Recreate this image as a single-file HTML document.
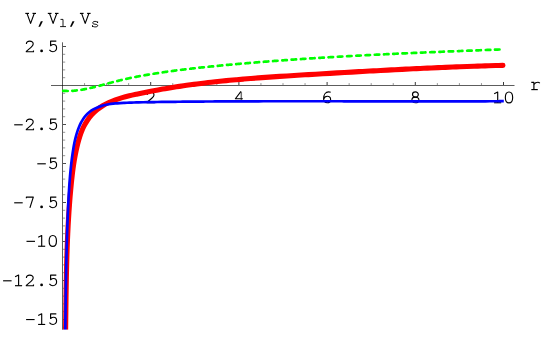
<!DOCTYPE html>
<html><head><meta charset="utf-8"><title>plot</title>
<style>
html,body{margin:0;padding:0;background:#fff;}
svg{display:block;}
text{font-family:"Liberation Mono",monospace;fill:#000;}
</style></head>
<body>
<svg width="545" height="337" viewBox="0 0 545 337">
<desc>Plot of V, V_l, V_s versus r. y ticks: 2.5, -2.5, -5, -7.5, -10, -12.5, -15. x ticks: 2, 4, 6, 8, 10.</desc>
<rect width="545" height="337" fill="#fff"/>
<g fill="none">
<line x1="51" y1="85.5" x2="514.5" y2="85.5" stroke="#000" stroke-opacity="0.8" stroke-width="0.8"/>
<line x1="62.5" y1="42.3" x2="62.5" y2="329.7" stroke="#000" stroke-opacity="0.8" stroke-width="0.8"/>
<line x1="84.55" y1="85" x2="84.55" y2="83.1" stroke="#000" stroke-opacity="0.42" stroke-width="1"/>
<line x1="106.60" y1="85" x2="106.60" y2="83.1" stroke="#000" stroke-opacity="0.42" stroke-width="1"/>
<line x1="128.65" y1="85" x2="128.65" y2="83.1" stroke="#000" stroke-opacity="0.42" stroke-width="1"/>
<line x1="150.70" y1="85" x2="150.70" y2="82" stroke="#000" stroke-opacity="0.78" stroke-width="1"/>
<line x1="172.75" y1="85" x2="172.75" y2="83.1" stroke="#000" stroke-opacity="0.42" stroke-width="1"/>
<line x1="194.80" y1="85" x2="194.80" y2="83.1" stroke="#000" stroke-opacity="0.42" stroke-width="1"/>
<line x1="216.85" y1="85" x2="216.85" y2="83.1" stroke="#000" stroke-opacity="0.42" stroke-width="1"/>
<line x1="238.90" y1="85" x2="238.90" y2="82" stroke="#000" stroke-opacity="0.78" stroke-width="1"/>
<line x1="260.95" y1="85" x2="260.95" y2="83.1" stroke="#000" stroke-opacity="0.42" stroke-width="1"/>
<line x1="283.00" y1="85" x2="283.00" y2="83.1" stroke="#000" stroke-opacity="0.42" stroke-width="1"/>
<line x1="305.05" y1="85" x2="305.05" y2="83.1" stroke="#000" stroke-opacity="0.42" stroke-width="1"/>
<line x1="327.10" y1="85" x2="327.10" y2="82" stroke="#000" stroke-opacity="0.78" stroke-width="1"/>
<line x1="349.15" y1="85" x2="349.15" y2="83.1" stroke="#000" stroke-opacity="0.42" stroke-width="1"/>
<line x1="371.20" y1="85" x2="371.20" y2="83.1" stroke="#000" stroke-opacity="0.42" stroke-width="1"/>
<line x1="393.25" y1="85" x2="393.25" y2="83.1" stroke="#000" stroke-opacity="0.42" stroke-width="1"/>
<line x1="415.30" y1="85" x2="415.30" y2="82" stroke="#000" stroke-opacity="0.78" stroke-width="1"/>
<line x1="437.35" y1="85" x2="437.35" y2="83.1" stroke="#000" stroke-opacity="0.42" stroke-width="1"/>
<line x1="459.40" y1="85" x2="459.40" y2="83.1" stroke="#000" stroke-opacity="0.42" stroke-width="1"/>
<line x1="481.45" y1="85" x2="481.45" y2="83.1" stroke="#000" stroke-opacity="0.42" stroke-width="1"/>
<line x1="503.50" y1="85" x2="503.50" y2="82" stroke="#000" stroke-opacity="0.78" stroke-width="1"/>
<line x1="63" y1="327.30" x2="65.2" y2="327.30" stroke="#000" stroke-opacity="0.42" stroke-width="1"/>
<line x1="63" y1="319.50" x2="66" y2="319.50" stroke="#000" stroke-opacity="0.7" stroke-width="1"/>
<line x1="63" y1="311.70" x2="65.2" y2="311.70" stroke="#000" stroke-opacity="0.42" stroke-width="1"/>
<line x1="63" y1="303.90" x2="65.2" y2="303.90" stroke="#000" stroke-opacity="0.42" stroke-width="1"/>
<line x1="63" y1="296.10" x2="65.2" y2="296.10" stroke="#000" stroke-opacity="0.42" stroke-width="1"/>
<line x1="63" y1="288.30" x2="65.2" y2="288.30" stroke="#000" stroke-opacity="0.42" stroke-width="1"/>
<line x1="63" y1="280.50" x2="66" y2="280.50" stroke="#000" stroke-opacity="0.7" stroke-width="1"/>
<line x1="63" y1="272.70" x2="65.2" y2="272.70" stroke="#000" stroke-opacity="0.42" stroke-width="1"/>
<line x1="63" y1="264.90" x2="65.2" y2="264.90" stroke="#000" stroke-opacity="0.42" stroke-width="1"/>
<line x1="63" y1="257.10" x2="65.2" y2="257.10" stroke="#000" stroke-opacity="0.42" stroke-width="1"/>
<line x1="63" y1="249.30" x2="65.2" y2="249.30" stroke="#000" stroke-opacity="0.42" stroke-width="1"/>
<line x1="63" y1="241.50" x2="66" y2="241.50" stroke="#000" stroke-opacity="0.7" stroke-width="1"/>
<line x1="63" y1="233.70" x2="65.2" y2="233.70" stroke="#000" stroke-opacity="0.42" stroke-width="1"/>
<line x1="63" y1="225.90" x2="65.2" y2="225.90" stroke="#000" stroke-opacity="0.42" stroke-width="1"/>
<line x1="63" y1="218.10" x2="65.2" y2="218.10" stroke="#000" stroke-opacity="0.42" stroke-width="1"/>
<line x1="63" y1="210.30" x2="65.2" y2="210.30" stroke="#000" stroke-opacity="0.42" stroke-width="1"/>
<line x1="63" y1="202.50" x2="66" y2="202.50" stroke="#000" stroke-opacity="0.7" stroke-width="1"/>
<line x1="63" y1="194.70" x2="65.2" y2="194.70" stroke="#000" stroke-opacity="0.42" stroke-width="1"/>
<line x1="63" y1="186.90" x2="65.2" y2="186.90" stroke="#000" stroke-opacity="0.42" stroke-width="1"/>
<line x1="63" y1="179.10" x2="65.2" y2="179.10" stroke="#000" stroke-opacity="0.42" stroke-width="1"/>
<line x1="63" y1="171.30" x2="65.2" y2="171.30" stroke="#000" stroke-opacity="0.42" stroke-width="1"/>
<line x1="63" y1="163.50" x2="66" y2="163.50" stroke="#000" stroke-opacity="0.7" stroke-width="1"/>
<line x1="63" y1="155.70" x2="65.2" y2="155.70" stroke="#000" stroke-opacity="0.42" stroke-width="1"/>
<line x1="63" y1="147.90" x2="65.2" y2="147.90" stroke="#000" stroke-opacity="0.42" stroke-width="1"/>
<line x1="63" y1="140.10" x2="65.2" y2="140.10" stroke="#000" stroke-opacity="0.42" stroke-width="1"/>
<line x1="63" y1="132.30" x2="65.2" y2="132.30" stroke="#000" stroke-opacity="0.42" stroke-width="1"/>
<line x1="63" y1="124.50" x2="66" y2="124.50" stroke="#000" stroke-opacity="0.7" stroke-width="1"/>
<line x1="63" y1="116.70" x2="65.2" y2="116.70" stroke="#000" stroke-opacity="0.42" stroke-width="1"/>
<line x1="63" y1="108.90" x2="65.2" y2="108.90" stroke="#000" stroke-opacity="0.42" stroke-width="1"/>
<line x1="63" y1="101.10" x2="65.2" y2="101.10" stroke="#000" stroke-opacity="0.42" stroke-width="1"/>
<line x1="63" y1="93.30" x2="65.2" y2="93.30" stroke="#000" stroke-opacity="0.42" stroke-width="1"/>
<line x1="63" y1="77.70" x2="65.2" y2="77.70" stroke="#000" stroke-opacity="0.42" stroke-width="1"/>
<line x1="63" y1="69.90" x2="65.2" y2="69.90" stroke="#000" stroke-opacity="0.42" stroke-width="1"/>
<line x1="63" y1="62.10" x2="65.2" y2="62.10" stroke="#000" stroke-opacity="0.42" stroke-width="1"/>
<line x1="63" y1="54.30" x2="65.2" y2="54.30" stroke="#000" stroke-opacity="0.42" stroke-width="1"/>
<line x1="63" y1="46.50" x2="66" y2="46.50" stroke="#000" stroke-opacity="0.7" stroke-width="1"/>
</g>
<g>
<path transform="translate(53.20 52.25)" d="M3.1 -11.2 L-2.6 -11.2 L-2.6 -6.5 C-1.6 -7.4 -0.6 -7.8 0.5 -7.8 C2.2 -7.8 3.4 -6.2 3.4 -4.2 C3.4 -2 1.8 -0.55 -0.2 -0.55 C-1.7 -0.55 -2.9 -1.2 -3.8 -2.3" fill="none" stroke="#000" stroke-opacity="1.00" stroke-width="1.15" stroke-linejoin="round" stroke-linecap="butt"/>
<circle cx="41.60" cy="50.90" r="1.4" fill="#000"/>
<path transform="translate(29.90 52.25)" d="M-3.5 -8.2 C-3.5 -10.1 -2 -11.2 -0.1 -11.2 C1.9 -11.2 3.3 -10 3.3 -8.3 C3.3 -7 2.5 -6.1 1.1 -4.9 L-3.6 -0.9 L-3.6 -0.55 L3.6 -0.55 L3.6 -1.7" fill="none" stroke="#000" stroke-opacity="1.00" stroke-width="1.15" stroke-linejoin="round" stroke-linecap="butt"/>
<path transform="translate(53.20 130.25)" d="M3.1 -11.2 L-2.6 -11.2 L-2.6 -6.5 C-1.6 -7.4 -0.6 -7.8 0.5 -7.8 C2.2 -7.8 3.4 -6.2 3.4 -4.2 C3.4 -2 1.8 -0.55 -0.2 -0.55 C-1.7 -0.55 -2.9 -1.2 -3.8 -2.3" fill="none" stroke="#000" stroke-opacity="1.00" stroke-width="1.15" stroke-linejoin="round" stroke-linecap="butt"/>
<circle cx="41.60" cy="128.90" r="1.4" fill="#000"/>
<path transform="translate(29.90 130.25)" d="M-3.5 -8.2 C-3.5 -10.1 -2 -11.2 -0.1 -11.2 C1.9 -11.2 3.3 -10 3.3 -8.3 C3.3 -7 2.5 -6.1 1.1 -4.9 L-3.6 -0.9 L-3.6 -0.55 L3.6 -0.55 L3.6 -1.7" fill="none" stroke="#000" stroke-opacity="1.00" stroke-width="1.15" stroke-linejoin="round" stroke-linecap="butt"/>
<path transform="translate(18.50 130.25)" d="M-4.3 -5.45 L4.2 -5.45" fill="none" stroke="#000" stroke-opacity="1.00" stroke-width="1.15" stroke-linejoin="round" stroke-linecap="butt"/>
<path transform="translate(53.20 169.25)" d="M3.1 -11.2 L-2.6 -11.2 L-2.6 -6.5 C-1.6 -7.4 -0.6 -7.8 0.5 -7.8 C2.2 -7.8 3.4 -6.2 3.4 -4.2 C3.4 -2 1.8 -0.55 -0.2 -0.55 C-1.7 -0.55 -2.9 -1.2 -3.8 -2.3" fill="none" stroke="#000" stroke-opacity="1.00" stroke-width="1.15" stroke-linejoin="round" stroke-linecap="butt"/>
<path transform="translate(41.60 169.25)" d="M-4.3 -5.45 L4.2 -5.45" fill="none" stroke="#000" stroke-opacity="1.00" stroke-width="1.15" stroke-linejoin="round" stroke-linecap="butt"/>
<path transform="translate(53.20 208.25)" d="M3.1 -11.2 L-2.6 -11.2 L-2.6 -6.5 C-1.6 -7.4 -0.6 -7.8 0.5 -7.8 C2.2 -7.8 3.4 -6.2 3.4 -4.2 C3.4 -2 1.8 -0.55 -0.2 -0.55 C-1.7 -0.55 -2.9 -1.2 -3.8 -2.3" fill="none" stroke="#000" stroke-opacity="1.00" stroke-width="1.15" stroke-linejoin="round" stroke-linecap="butt"/>
<circle cx="41.60" cy="206.90" r="1.4" fill="#000"/>
<path transform="translate(29.90 208.25)" d="M-3.5 -9.9 L-3.5 -11.2 L3.4 -11.2 L0 -0.4" fill="none" stroke="#000" stroke-opacity="1.00" stroke-width="1.15" stroke-linejoin="round" stroke-linecap="butt"/>
<path transform="translate(18.50 208.25)" d="M-4.3 -5.45 L4.2 -5.45" fill="none" stroke="#000" stroke-opacity="1.00" stroke-width="1.15" stroke-linejoin="round" stroke-linecap="butt"/>
<path transform="translate(52.80 246.80)" d="M0 -11.3 C2.3 -11.3 3.65 -9 3.65 -5.85 C3.65 -2.7 2.3 -0.4 0 -0.4 C-2.3 -0.4 -3.65 -2.7 -3.65 -5.85 C-3.65 -9 -2.3 -11.3 0 -11.3 Z" fill="none" stroke="#000" stroke-opacity="1.00" stroke-width="1.15" stroke-linejoin="round" stroke-linecap="butt"/>
<path transform="translate(41.60 246.80)" d="M-3.4 -9.5 L0.1 -11.2 L0.1 -0.55" fill="none" stroke="#000" stroke-opacity="1.00" stroke-width="1.15" stroke-linejoin="round" stroke-linecap="butt"/><path transform="translate(41.60 246.80)" d="M-3.5 -0.55 L3.6 -0.55" fill="none" stroke="#000" stroke-opacity="1.00" stroke-width="1.15" stroke-linejoin="round" stroke-linecap="butt"/>
<path transform="translate(30.80 246.80)" d="M-4.3 -5.45 L4.2 -5.45" fill="none" stroke="#000" stroke-opacity="1.00" stroke-width="1.15" stroke-linejoin="round" stroke-linecap="butt"/>
<path transform="translate(53.20 286.25)" d="M3.1 -11.2 L-2.6 -11.2 L-2.6 -6.5 C-1.6 -7.4 -0.6 -7.8 0.5 -7.8 C2.2 -7.8 3.4 -6.2 3.4 -4.2 C3.4 -2 1.8 -0.55 -0.2 -0.55 C-1.7 -0.55 -2.9 -1.2 -3.8 -2.3" fill="none" stroke="#000" stroke-opacity="1.00" stroke-width="1.15" stroke-linejoin="round" stroke-linecap="butt"/>
<circle cx="41.60" cy="284.90" r="1.4" fill="#000"/>
<path transform="translate(29.90 286.25)" d="M-3.5 -8.2 C-3.5 -10.1 -2 -11.2 -0.1 -11.2 C1.9 -11.2 3.3 -10 3.3 -8.3 C3.3 -7 2.5 -6.1 1.1 -4.9 L-3.6 -0.9 L-3.6 -0.55 L3.6 -0.55 L3.6 -1.7" fill="none" stroke="#000" stroke-opacity="1.00" stroke-width="1.15" stroke-linejoin="round" stroke-linecap="butt"/>
<path transform="translate(18.50 286.25)" d="M-3.4 -9.5 L0.1 -11.2 L0.1 -0.55" fill="none" stroke="#000" stroke-opacity="1.00" stroke-width="1.15" stroke-linejoin="round" stroke-linecap="butt"/><path transform="translate(18.50 286.25)" d="M-3.5 -0.55 L3.6 -0.55" fill="none" stroke="#000" stroke-opacity="1.00" stroke-width="1.15" stroke-linejoin="round" stroke-linecap="butt"/>
<path transform="translate(7.40 286.25)" d="M-4.3 -5.45 L4.2 -5.45" fill="none" stroke="#000" stroke-opacity="1.00" stroke-width="1.15" stroke-linejoin="round" stroke-linecap="butt"/>
<path transform="translate(53.20 325.00)" d="M3.1 -11.2 L-2.6 -11.2 L-2.6 -6.5 C-1.6 -7.4 -0.6 -7.8 0.5 -7.8 C2.2 -7.8 3.4 -6.2 3.4 -4.2 C3.4 -2 1.8 -0.55 -0.2 -0.55 C-1.7 -0.55 -2.9 -1.2 -3.8 -2.3" fill="none" stroke="#000" stroke-opacity="1.00" stroke-width="1.15" stroke-linejoin="round" stroke-linecap="butt"/>
<path transform="translate(41.60 325.00)" d="M-3.4 -9.5 L0.1 -11.2 L0.1 -0.55" fill="none" stroke="#000" stroke-opacity="1.00" stroke-width="1.15" stroke-linejoin="round" stroke-linecap="butt"/><path transform="translate(41.60 325.00)" d="M-3.5 -0.55 L3.6 -0.55" fill="none" stroke="#000" stroke-opacity="1.00" stroke-width="1.15" stroke-linejoin="round" stroke-linecap="butt"/>
<path transform="translate(30.40 325.00)" d="M-4.3 -5.45 L4.2 -5.45" fill="none" stroke="#000" stroke-opacity="1.00" stroke-width="1.15" stroke-linejoin="round" stroke-linecap="butt"/>
<path transform="translate(150.70 103.20)" d="M-3.5 -8.2 C-3.5 -10.1 -2 -11.2 -0.1 -11.2 C1.9 -11.2 3.3 -10 3.3 -8.3 C3.3 -7 2.5 -6.1 1.1 -4.9 L-3.6 -0.9 L-3.6 -0.55 L3.6 -0.55 L3.6 -1.7" fill="none" stroke="#000" stroke-opacity="1.00" stroke-width="1.15" stroke-linejoin="round" stroke-linecap="butt"/>
<path transform="translate(238.90 103.20)" d="M2.4 -1.2 L2.4 -11.4" fill="none" stroke="#000" stroke-opacity="0.55" stroke-width="1.50" stroke-linejoin="round" stroke-linecap="butt"/><path transform="translate(238.90 103.20)" d="M2.3 -11.5 L1.9 -11.5 L-3.5 -4.45 L3.9 -4.45" fill="none" stroke="#000" stroke-opacity="1.00" stroke-width="1.15" stroke-linejoin="round" stroke-linecap="butt"/>
<path transform="translate(327.10 103.20)" d="M3.6 -10.9 C2.9 -11.2 2.2 -11.3 1.5 -11.3 C-1.5 -11.3 -3.5 -8.3 -3.5 -4.4 C-3.5 -2 -2 -0.5 0.1 -0.5 C2.1 -0.5 3.5 -1.9 3.5 -3.8 C3.5 -5.7 2.1 -7 0.2 -7 C-1.5 -7 -2.9 -5.9 -3.4 -4" fill="none" stroke="#000" stroke-opacity="1.00" stroke-width="1.15" stroke-linejoin="round" stroke-linecap="butt"/>
<path transform="translate(415.30 103.20)" d="M0.1 -11.3 C1.8 -11.3 3.0 -10.15 3.0 -8.7 C3.0 -7.25 1.8 -6.1 0.1 -6.1 C-1.6 -6.1 -2.8 -7.25 -2.8 -8.7 C-2.8 -10.15 -1.6 -11.3 0.1 -11.3 Z" fill="none" stroke="#000" stroke-opacity="1.00" stroke-width="1.15" stroke-linejoin="round" stroke-linecap="butt"/><path transform="translate(415.30 103.20)" d="M0.1 -6.1 C2.2 -6.1 3.6 -4.9 3.6 -3.3 C3.6 -1.7 2.2 -0.45 0.1 -0.45 C-2 -0.45 -3.4 -1.7 -3.4 -3.3 C-3.4 -4.9 -2 -6.1 0.1 -6.1 Z" fill="none" stroke="#000" stroke-opacity="1.00" stroke-width="1.15" stroke-linejoin="round" stroke-linecap="butt"/>
<path transform="translate(497.60 103.30)" d="M-3.4 -9.5 L0.1 -11.2 L0.1 -0.55" fill="none" stroke="#000" stroke-opacity="1.00" stroke-width="1.15" stroke-linejoin="round" stroke-linecap="butt"/><path transform="translate(497.60 103.30)" d="M-3.5 -0.55 L3.6 -0.55" fill="none" stroke="#000" stroke-opacity="1.00" stroke-width="1.15" stroke-linejoin="round" stroke-linecap="butt"/>
<path transform="translate(509.00 103.30)" d="M0 -11.3 C2.3 -11.3 3.65 -9 3.65 -5.85 C3.65 -2.7 2.3 -0.4 0 -0.4 C-2.3 -0.4 -3.65 -2.7 -3.65 -5.85 C-3.65 -9 -2.3 -11.3 0 -11.3 Z" fill="none" stroke="#000" stroke-opacity="1.00" stroke-width="1.15" stroke-linejoin="round" stroke-linecap="butt"/>
<path transform="translate(535.50 90.05)" d="M-4.2 -7.75 L-1.6 -7.75 L-1.6 -0.45" fill="none" stroke="#000" stroke-opacity="1.00" stroke-width="1.15" stroke-linejoin="round" stroke-linecap="butt"/><path transform="translate(535.50 90.05)" d="M-4.2 -0.45 L2.3 -0.45" fill="none" stroke="#000" stroke-opacity="1.00" stroke-width="1.15" stroke-linejoin="round" stroke-linecap="butt"/><path transform="translate(535.50 90.05)" d="M-1.6 -5.6 C-0.6 -7 0.9 -7.85 2.4 -7.85 C3.3 -7.85 3.9 -7.4 4.2 -6.7" fill="none" stroke="#000" stroke-opacity="1.00" stroke-width="1.15" stroke-linejoin="round" stroke-linecap="butt"/>
<path transform="translate(30.60 23.90)" d="M-5.3 -10.5 L-1.6 -10.5" fill="none" stroke="#000" stroke-opacity="1.00" stroke-width="1.15" stroke-linejoin="round" stroke-linecap="butt"/><path transform="translate(30.60 23.90)" d="M1.9 -10.5 L5.4 -10.5" fill="none" stroke="#000" stroke-opacity="1.00" stroke-width="1.15" stroke-linejoin="round" stroke-linecap="butt"/><path transform="translate(30.60 23.90)" d="M-3.6 -10.5 L0 -0.5 L3.7 -10.5" fill="none" stroke="#000" stroke-opacity="1.00" stroke-width="1.15" stroke-linejoin="round" stroke-linecap="butt"/><path d="M40.85 21.20 L42.90 21.20 L40.10 26.80 L38.40 26.80 Z" fill="#000"/><path transform="translate(53.10 23.90)" d="M-5.3 -10.5 L-1.6 -10.5" fill="none" stroke="#000" stroke-opacity="1.00" stroke-width="1.15" stroke-linejoin="round" stroke-linecap="butt"/><path transform="translate(53.10 23.90)" d="M1.9 -10.5 L5.4 -10.5" fill="none" stroke="#000" stroke-opacity="1.00" stroke-width="1.15" stroke-linejoin="round" stroke-linecap="butt"/><path transform="translate(53.10 23.90)" d="M-3.6 -10.5 L0 -0.5 L3.7 -10.5" fill="none" stroke="#000" stroke-opacity="1.00" stroke-width="1.15" stroke-linejoin="round" stroke-linecap="butt"/><path transform="translate(63.00 27.00)" d="M-2.5 -7.6 L0 -7.6 L0 -0.4" fill="none" stroke="#000" stroke-opacity="1.00" stroke-width="0.90" stroke-linejoin="round" stroke-linecap="butt"/><path transform="translate(63.00 27.00)" d="M-2.9 -0.4 L3.0 -0.4" fill="none" stroke="#000" stroke-opacity="1.00" stroke-width="0.90" stroke-linejoin="round" stroke-linecap="butt"/><path d="M72.45 21.20 L74.50 21.20 L71.70 26.80 L70.00 26.80 Z" fill="#000"/><path transform="translate(85.20 23.90)" d="M-5.3 -10.5 L-1.6 -10.5" fill="none" stroke="#000" stroke-opacity="1.00" stroke-width="1.15" stroke-linejoin="round" stroke-linecap="butt"/><path transform="translate(85.20 23.90)" d="M1.9 -10.5 L5.4 -10.5" fill="none" stroke="#000" stroke-opacity="1.00" stroke-width="1.15" stroke-linejoin="round" stroke-linecap="butt"/><path transform="translate(85.20 23.90)" d="M-3.6 -10.5 L0 -0.5 L3.7 -10.5" fill="none" stroke="#000" stroke-opacity="1.00" stroke-width="1.15" stroke-linejoin="round" stroke-linecap="butt"/><path transform="translate(95.10 27.00)" d="M2.5 -4.2 C2.3 -5.1 1.2 -5.6 0 -5.6 C-1.4 -5.6 -2.4 -5 -2.4 -4.1 C-2.4 -3.3 -1.6 -3 0 -2.8 C1.7 -2.6 2.6 -2.2 2.6 -1.4 C2.6 -0.5 1.5 -0.1 0.1 -0.1 C-1.2 -0.1 -2.3 -0.5 -2.6 -1.4" fill="none" stroke="#000" stroke-opacity="1.00" stroke-width="0.95" stroke-linejoin="round" stroke-linecap="butt"/><path transform="translate(95.10 27.00)" d="M2.5 -5.6 L2.5 -4.0" fill="none" stroke="#000" stroke-opacity="1.00" stroke-width="0.95" stroke-linejoin="round" stroke-linecap="butt"/><path transform="translate(95.10 27.00)" d="M-2.6 -1.7 L-2.6 0" fill="none" stroke="#000" stroke-opacity="1.00" stroke-width="0.95" stroke-linejoin="round" stroke-linecap="butt"/>
</g>
<g fill="none" stroke-linejoin="round">
<path d="M63.20 90.83 L63.49 90.85 L64.23 90.89 L64.98 90.93 L65.73 90.95 L66.48 90.97 L67.22 90.98 L67.69 90.98 M72.30 90.84 L72.41 90.84 L73.15 90.79 L73.89 90.73 L74.62 90.67 L75.36 90.60 L76.10 90.52 L76.78 90.44 M81.43 89.79 L81.95 89.71 L82.68 89.58 L83.41 89.45 L84.14 89.32 L84.87 89.18 L85.59 89.04 L85.86 88.99 M90.47 87.99 L90.67 87.94 L91.39 87.78 L92.12 87.60 L92.84 87.43 L93.56 87.25 L94.28 87.07 L94.84 86.93 M99.44 85.75 L100.06 85.58 L100.78 85.39 L101.50 85.20 L102.22 85.01 L102.94 84.81 L103.66 84.62 L103.78 84.59 M108.37 83.36 L108.70 83.27 L109.42 83.07 L110.15 82.88 L110.87 82.69 L111.59 82.50 L112.31 82.31 L112.72 82.20 M117.31 81.03 L117.36 81.01 L118.08 80.83 L118.81 80.65 L119.53 80.48 L120.25 80.30 L120.98 80.12 L121.68 79.95 M126.31 78.88 L126.77 78.78 L127.50 78.62 L128.23 78.46 L128.95 78.30 L129.68 78.15 L130.41 77.99 L130.71 77.93 M135.36 76.98 L135.50 76.95 L136.23 76.81 L136.96 76.67 L137.69 76.53 L138.42 76.39 L139.15 76.25 L139.77 76.14 M144.44 75.29 L145.00 75.19 L145.73 75.06 L146.46 74.94 L147.20 74.81 L147.93 74.69 L148.66 74.56 L148.88 74.53 M153.56 73.75 L153.79 73.72 L154.53 73.60 L155.26 73.48 L155.99 73.37 L156.73 73.25 L157.46 73.14 L158.01 73.05 M162.70 72.34 L163.34 72.25 L164.08 72.14 L164.81 72.03 L165.55 71.93 L166.29 71.82 L167.02 71.72 L167.15 71.70 M171.85 71.05 L172.18 71.00 L172.91 70.90 L173.65 70.80 L174.39 70.70 L175.13 70.61 L175.86 70.51 L176.31 70.45 M181.02 69.85 L181.03 69.85 L181.77 69.75 L182.51 69.66 L183.24 69.57 L183.98 69.48 L184.72 69.39 L185.46 69.30 L185.48 69.30 M190.20 68.74 L190.63 68.69 L191.37 68.60 L192.11 68.52 L192.85 68.43 L193.59 68.35 L194.33 68.26 L194.67 68.23 M199.38 67.70 L199.51 67.69 L200.25 67.61 L200.99 67.53 L201.73 67.45 L202.47 67.37 L203.21 67.29 L203.86 67.23 M208.58 66.74 L209.14 66.68 L209.88 66.60 L210.62 66.53 L211.36 66.45 L212.10 66.38 L212.84 66.31 L213.06 66.29 M217.78 65.82 L218.03 65.80 L218.77 65.73 L219.52 65.65 L220.26 65.58 L221.00 65.51 L221.74 65.44 L222.26 65.39 M226.98 64.95 L227.67 64.89 L228.41 64.82 L229.15 64.75 L229.90 64.68 L230.64 64.61 L231.38 64.55 L231.46 64.54 M236.19 64.11 L236.57 64.08 L237.31 64.01 L238.05 63.95 L238.79 63.88 L239.54 63.82 L240.28 63.75 L240.67 63.72 M245.40 63.31 L245.47 63.30 L246.21 63.24 L246.95 63.17 L247.69 63.11 L248.44 63.05 L249.18 62.99 L249.88 62.93 M254.61 62.53 L255.11 62.49 L255.85 62.43 L256.60 62.37 L257.34 62.31 L258.08 62.25 L258.82 62.19 L259.10 62.17 M263.83 61.79 L264.02 61.77 L264.76 61.71 L265.50 61.65 L266.24 61.60 L266.98 61.54 L267.73 61.48 L268.31 61.43 M273.05 61.07 L273.66 61.02 L274.40 60.97 L275.15 60.91 L275.89 60.86 L276.63 60.80 L277.37 60.74 L277.53 60.73 M282.35 60.38 L282.57 60.36 L283.31 60.31 L284.05 60.25 L284.79 60.20 L285.54 60.14 L286.28 60.09 L286.83 60.05 M291.60 59.71 L292.22 59.67 L292.96 59.62 L293.70 59.57 L294.44 59.51 L295.19 59.46 L295.93 59.41 L296.09 59.40 M300.90 59.07 L301.13 59.06 L301.87 59.01 L302.61 58.96 L303.35 58.91 L304.10 58.86 L304.84 58.81 L305.39 58.77 M310.13 58.46 L310.78 58.42 L311.52 58.37 L312.26 58.32 L313.01 58.27 L313.75 58.23 L314.49 58.18 L314.62 58.17 M319.36 57.87 L319.69 57.85 L320.43 57.80 L321.17 57.76 L321.92 57.71 L322.66 57.67 L323.40 57.62 L323.85 57.59 M328.59 57.31 L328.60 57.30 L329.34 57.26 L330.09 57.22 L330.83 57.17 L331.57 57.13 L332.31 57.08 L333.06 57.04 L333.08 57.04 M337.82 56.76 L338.26 56.74 L339.00 56.69 L339.74 56.65 L340.49 56.61 L341.23 56.56 L341.97 56.52 L342.31 56.50 M347.05 56.24 L347.17 56.23 L347.91 56.19 L348.66 56.15 L349.40 56.11 L350.14 56.06 L350.89 56.02 L351.55 55.99 M356.29 55.73 L356.83 55.70 L357.57 55.66 L358.32 55.62 L359.06 55.58 L359.80 55.54 L360.55 55.50 L360.78 55.49 M365.52 55.24 L365.75 55.23 L366.49 55.19 L367.23 55.15 L367.98 55.12 L368.72 55.08 L369.46 55.04 L370.02 55.01 M374.76 54.77 L375.41 54.74 L376.15 54.70 L376.89 54.67 L377.64 54.63 L378.38 54.59 L379.12 54.55 L379.25 54.55 M384.00 54.32 L384.33 54.30 L385.07 54.26 L385.81 54.23 L386.56 54.19 L387.30 54.16 L388.04 54.12 L388.49 54.10 M393.24 53.88 L393.24 53.87 L393.99 53.84 L394.73 53.81 L395.47 53.77 L396.22 53.74 L396.96 53.70 L397.70 53.67 L397.73 53.67 M402.47 53.45 L402.91 53.43 L403.65 53.39 L404.39 53.36 L405.14 53.33 L405.88 53.29 L406.63 53.26 L406.97 53.24 M411.71 53.03 L411.83 53.03 L412.57 52.99 L413.32 52.96 L414.06 52.93 L414.80 52.90 L415.55 52.86 L416.21 52.83 M420.95 52.63 L421.49 52.61 L422.24 52.57 L422.98 52.54 L423.72 52.51 L424.47 52.48 L425.21 52.45 L425.45 52.44 M430.19 52.24 L430.42 52.23 L431.16 52.19 L431.90 52.16 L432.65 52.13 L433.39 52.10 L434.13 52.07 L434.69 52.05 M439.43 51.85 L440.08 51.82 L440.83 51.79 L441.57 51.76 L442.31 51.73 L443.06 51.70 L443.80 51.67 L443.93 51.67 M448.67 51.47 L449.01 51.46 L449.75 51.43 L450.49 51.40 L451.24 51.37 L451.98 51.34 L452.73 51.31 L453.17 51.29 M457.92 51.10 L457.93 51.10 L458.68 51.07 L459.42 51.04 L460.16 51.01 L460.91 50.99 L461.65 50.96 L462.39 50.93 L462.41 50.93 M467.16 50.74 L467.60 50.72 L468.34 50.69 L469.09 50.66 L469.83 50.64 L470.58 50.61 L471.32 50.58 L471.65 50.56 M476.40 50.38 L476.53 50.38 L477.27 50.35 L478.01 50.32 L478.76 50.29 L479.50 50.26 L480.24 50.23 L480.90 50.21 M485.80 50.02 L486.20 50.00 L486.94 49.97 L487.68 49.95 L488.43 49.92 L489.17 49.89 L489.91 49.86 L490.30 49.85 M495.00 49.67 L495.12 49.66 L495.87 49.63 L496.61 49.60 L497.35 49.58 L498.10 49.55 L498.84 49.52 L499.50 49.49" stroke="#00ff00" stroke-width="2.7" stroke-linecap="round"/><path d="M65.55 334.00 C65.57 332.80 65.62 329.20 65.65 326.79 C65.68 324.39 65.71 321.99 65.74 319.59 C65.77 317.19 65.80 314.78 65.83 312.38 C65.86 309.98 65.89 307.57 65.93 305.17 C65.96 302.77 65.99 300.36 66.02 297.96 C66.06 295.55 66.09 293.15 66.13 290.74 C66.17 288.34 66.21 285.93 66.25 283.53 C66.29 281.12 66.34 278.71 66.39 276.31 C66.44 273.90 66.49 271.50 66.55 269.09 C66.60 266.69 66.66 264.28 66.73 261.88 C66.79 259.47 66.86 257.07 66.93 254.67 C67.01 252.26 67.09 249.86 67.17 247.45 C67.26 245.05 67.35 242.65 67.45 240.25 C67.55 237.84 67.65 235.44 67.77 233.04 C67.88 230.64 68.00 228.24 68.12 225.84 C68.25 223.44 68.38 221.04 68.53 218.65 C68.67 216.25 68.82 213.85 68.98 211.46 C69.14 209.06 69.31 206.66 69.49 204.27 C69.67 201.88 69.86 199.48 70.06 197.09 C70.26 194.70 70.47 192.31 70.69 189.92 C70.91 187.53 71.13 185.14 71.38 182.76 C71.62 180.37 71.88 177.99 72.16 175.60 C72.44 173.22 72.73 170.84 73.06 168.46 C73.38 166.09 73.73 163.71 74.12 161.34 C74.51 158.97 74.93 156.60 75.39 154.24 C75.86 151.87 76.36 149.51 76.91 147.16 C77.47 144.80 78.05 142.44 78.73 140.11 C79.40 137.77 80.10 135.43 80.95 133.15 C81.79 130.88 82.72 128.62 83.81 126.46 C84.90 124.30 86.13 122.19 87.48 120.21 C88.83 118.23 90.33 116.32 91.91 114.58 C93.50 112.84 95.22 111.23 97.02 109.76 C98.81 108.29 100.72 106.99 102.70 105.78 C104.67 104.57 106.74 103.50 108.86 102.51 C110.99 101.52 113.19 100.65 115.42 99.84 C117.66 99.03 119.96 98.32 122.27 97.64 C124.59 96.97 126.95 96.37 129.32 95.79 C131.69 95.21 134.09 94.69 136.47 94.17 C138.86 93.65 141.25 93.15 143.64 92.66 C146.03 92.18 148.42 91.71 150.81 91.25 C153.20 90.79 155.59 90.34 157.98 89.91 C160.37 89.48 162.75 89.06 165.14 88.66 C167.53 88.25 169.91 87.86 172.30 87.48 C174.69 87.10 177.07 86.73 179.46 86.37 C181.85 86.01 184.23 85.67 186.62 85.33 C189.00 85.00 191.39 84.67 193.78 84.36 C196.16 84.04 198.55 83.74 200.93 83.44 C203.32 83.15 205.70 82.86 208.09 82.59 C210.47 82.31 212.86 82.05 215.24 81.79 C217.63 81.53 220.02 81.28 222.40 81.04 C224.79 80.79 227.17 80.56 229.56 80.33 C231.94 80.10 234.33 79.88 236.72 79.67 C239.10 79.46 241.49 79.25 243.88 79.05 C246.26 78.85 248.65 78.65 251.04 78.46 C253.42 78.27 255.81 78.09 258.20 77.91 C260.59 77.73 262.98 77.55 265.37 77.38 C267.76 77.21 270.14 77.04 272.53 76.88 C274.92 76.72 277.31 76.56 279.71 76.40 C282.10 76.24 284.49 76.09 286.88 75.94 C289.27 75.79 291.67 75.64 294.06 75.49 C296.45 75.34 298.85 75.19 301.24 75.05 C303.64 74.90 306.03 74.76 308.43 74.62 C310.82 74.47 313.22 74.33 315.62 74.19 C318.02 74.05 320.42 73.90 322.82 73.76 C325.21 73.62 327.61 73.48 330.02 73.34 C332.42 73.19 334.82 73.05 337.22 72.91 C339.62 72.77 342.02 72.64 344.43 72.50 C346.83 72.36 349.23 72.22 351.64 72.08 C354.04 71.95 356.44 71.81 358.85 71.67 C361.25 71.54 363.66 71.40 366.06 71.27 C368.47 71.14 370.87 71.00 373.28 70.87 C375.68 70.74 378.09 70.61 380.49 70.48 C382.90 70.35 385.31 70.22 387.71 70.10 C390.12 69.97 392.52 69.85 394.93 69.72 C397.33 69.60 399.74 69.47 402.15 69.35 C404.55 69.23 406.96 69.11 409.36 68.99 C411.77 68.87 414.17 68.76 416.58 68.64 C418.98 68.53 421.39 68.41 423.79 68.30 C426.20 68.19 428.60 68.08 431.01 67.97 C433.41 67.86 435.81 67.76 438.22 67.65 C440.62 67.55 443.02 67.44 445.42 67.34 C447.83 67.24 450.23 67.14 452.63 67.05 C455.03 66.95 457.43 66.86 459.83 66.76 C462.23 66.67 464.63 66.58 467.03 66.49 C469.42 66.41 471.82 66.32 474.22 66.24 C476.61 66.15 479.01 66.07 481.40 66.00 C483.80 65.92 486.19 65.84 488.59 65.77 C490.98 65.69 493.37 65.62 495.76 65.56 C498.15 65.49 501.74 65.39 502.93 65.36" stroke="#ff0000" stroke-width="5.1" stroke-linecap="round"/>
<path d="M65.20 334.00 C65.22 333.23 65.25 330.92 65.27 329.38 C65.29 327.84 65.31 326.29 65.33 324.75 C65.36 323.21 65.38 321.67 65.40 320.13 C65.42 318.59 65.44 317.05 65.46 315.51 C65.48 313.97 65.50 312.42 65.52 310.88 C65.54 309.34 65.56 307.80 65.59 306.26 C65.61 304.72 65.63 303.18 65.65 301.64 C65.67 300.10 65.69 298.56 65.72 297.01 C65.74 295.47 65.76 293.93 65.78 292.39 C65.81 290.85 65.83 289.31 65.85 287.77 C65.88 286.23 65.90 284.69 65.93 283.15 C65.95 281.61 65.98 280.07 66.01 278.52 C66.03 276.98 66.06 275.44 66.09 273.90 C66.12 272.36 66.15 270.82 66.18 269.28 C66.21 267.74 66.24 266.20 66.27 264.66 C66.30 263.12 66.34 261.58 66.37 260.04 C66.40 258.50 66.44 256.96 66.48 255.42 C66.51 253.87 66.55 252.33 66.59 250.79 C66.63 249.25 66.67 247.71 66.71 246.17 C66.75 244.63 66.80 243.09 66.84 241.55 C66.88 240.01 66.93 238.47 66.98 236.93 C67.03 235.39 67.08 233.85 67.13 232.31 C67.18 230.77 67.23 229.23 67.28 227.69 C67.34 226.15 67.39 224.61 67.45 223.07 C67.51 221.53 67.57 219.99 67.63 218.45 C67.69 216.91 67.76 215.37 67.82 213.83 C67.89 212.29 67.96 210.75 68.03 209.21 C68.10 207.67 68.17 206.13 68.24 204.59 C68.32 203.05 68.39 201.51 68.47 199.97 C68.55 198.43 68.63 196.89 68.72 195.35 C68.81 193.81 68.89 192.27 68.99 190.73 C69.08 189.19 69.18 187.65 69.28 186.12 C69.39 184.58 69.49 183.04 69.61 181.50 C69.72 179.97 69.84 178.43 69.97 176.89 C70.10 175.36 70.23 173.82 70.38 172.29 C70.52 170.76 70.67 169.22 70.83 167.69 C70.99 166.16 71.16 164.63 71.34 163.10 C71.52 161.57 71.70 160.05 71.90 158.52 C72.10 156.99 72.31 155.47 72.53 153.94 C72.75 152.42 72.98 150.90 73.23 149.38 C73.48 147.86 73.74 146.34 74.02 144.82 C74.31 143.31 74.61 141.80 74.95 140.30 C75.29 138.79 75.65 137.29 76.06 135.80 C76.47 134.31 76.91 132.83 77.41 131.35 C77.90 129.88 78.43 128.40 79.03 126.96 C79.63 125.52 80.27 124.09 80.98 122.72 C81.70 121.34 82.47 119.99 83.33 118.73 C84.19 117.46 85.12 116.23 86.13 115.11 C87.15 113.99 88.26 112.94 89.45 112.00 C90.64 111.05 91.93 110.21 93.26 109.45 C94.60 108.68 96.02 108.01 97.44 107.41 C98.87 106.82 100.35 106.31 101.83 105.85 C103.31 105.40 104.80 105.04 106.30 104.71 C107.81 104.39 109.32 104.13 110.84 103.91 C112.37 103.69 113.90 103.52 115.43 103.38 C116.97 103.23 118.51 103.13 120.05 103.04 C121.59 102.94 123.14 102.88 124.68 102.81 C126.23 102.75 127.77 102.70 129.32 102.64 C130.86 102.59 132.41 102.54 133.95 102.49 C135.49 102.45 137.04 102.40 138.58 102.36 C140.12 102.32 141.66 102.29 143.21 102.25 C144.75 102.22 146.29 102.19 147.83 102.16 C149.37 102.13 150.91 102.10 152.45 102.08 C153.99 102.05 155.53 102.03 157.07 102.00 C158.61 101.98 160.15 101.96 161.69 101.94 C163.23 101.92 164.77 101.90 166.31 101.89 C167.85 101.87 169.39 101.85 170.93 101.83 C172.47 101.82 174.01 101.80 175.55 101.78 C177.09 101.77 178.63 101.75 180.17 101.74 C181.71 101.72 183.25 101.71 184.79 101.69 C186.33 101.68 187.87 101.66 189.41 101.65 C190.95 101.64 192.49 101.62 194.03 101.61 C195.57 101.60 197.11 101.59 198.65 101.57 C200.19 101.56 201.73 101.55 203.27 101.54 C204.81 101.53 206.35 101.52 207.89 101.51 C209.43 101.50 210.98 101.49 212.52 101.48 C214.06 101.47 215.60 101.46 217.14 101.45 C218.68 101.44 220.22 101.43 221.76 101.42 C223.30 101.42 224.84 101.41 226.38 101.40 C227.92 101.39 229.46 101.38 231.00 101.38 C232.54 101.37 234.09 101.36 235.63 101.36 C237.17 101.35 238.71 101.35 240.25 101.34 C241.79 101.33 243.33 101.33 244.87 101.32 C246.41 101.32 247.95 101.31 249.50 101.31 C251.04 101.30 252.58 101.30 254.12 101.30 C255.66 101.29 257.20 101.29 258.74 101.28 C260.28 101.28 261.82 101.28 263.37 101.27 C264.91 101.27 266.45 101.27 267.99 101.27 C269.53 101.26 271.07 101.26 272.61 101.26 C274.15 101.26 275.70 101.26 277.24 101.25 C278.78 101.25 280.32 101.25 281.86 101.25 C283.40 101.25 284.94 101.25 286.49 101.25 C288.03 101.24 289.57 101.24 291.11 101.24 C292.65 101.24 294.19 101.24 295.73 101.24 C297.27 101.24 298.82 101.24 300.36 101.24 C301.90 101.24 303.44 101.24 304.98 101.24 C306.52 101.24 308.07 101.24 309.61 101.24 C311.15 101.25 312.69 101.25 314.23 101.25 C315.77 101.25 317.31 101.25 318.86 101.25 C320.40 101.25 321.94 101.25 323.48 101.25 C325.02 101.25 326.56 101.26 328.11 101.26 C329.65 101.26 331.19 101.26 332.73 101.26 C334.27 101.26 335.81 101.27 337.35 101.27 C338.90 101.27 340.44 101.27 341.98 101.27 C343.52 101.28 345.06 101.28 346.60 101.28 C348.15 101.28 349.69 101.28 351.23 101.29 C352.77 101.29 354.31 101.29 355.85 101.29 C357.40 101.29 358.94 101.30 360.48 101.30 C362.02 101.30 363.56 101.30 365.10 101.30 C366.64 101.31 368.19 101.31 369.73 101.31 C371.27 101.31 372.81 101.32 374.35 101.32 C375.89 101.32 377.44 101.32 378.98 101.32 C380.52 101.33 382.06 101.33 383.60 101.33 C385.14 101.33 386.68 101.33 388.23 101.34 C389.77 101.34 391.31 101.34 392.85 101.34 C394.39 101.34 395.93 101.35 397.48 101.35 C399.02 101.35 400.56 101.35 402.10 101.35 C403.64 101.35 405.18 101.35 406.72 101.36 C408.27 101.36 409.81 101.36 411.35 101.36 C412.89 101.36 414.43 101.36 415.97 101.36 C417.51 101.36 419.05 101.36 420.60 101.36 C422.14 101.36 423.68 101.36 425.22 101.36 C426.76 101.36 428.30 101.37 429.84 101.37 C431.38 101.36 432.93 101.36 434.47 101.36 C436.01 101.36 437.55 101.36 439.09 101.36 C440.63 101.36 442.17 101.36 443.71 101.36 C445.25 101.36 446.80 101.36 448.34 101.36 C449.88 101.35 451.42 101.35 452.96 101.35 C454.50 101.35 456.04 101.35 457.58 101.35 C459.12 101.34 460.66 101.34 462.20 101.34 C463.75 101.33 465.29 101.33 466.83 101.33 C468.37 101.33 469.91 101.32 471.45 101.32 C472.99 101.31 474.53 101.31 476.07 101.31 C477.61 101.30 479.15 101.30 480.69 101.29 C482.23 101.29 483.77 101.28 485.31 101.28 C486.86 101.27 488.40 101.27 489.94 101.26 C491.48 101.25 493.02 101.25 494.56 101.24 C496.10 101.23 497.64 101.23 499.18 101.22 C500.72 101.21 503.03 101.20 503.80 101.20" stroke="#0000ff" stroke-width="2.7"/>
</g>
<rect x="63" y="329.6" width="482" height="8" fill="#fff"/>
</svg>
</body></html>
